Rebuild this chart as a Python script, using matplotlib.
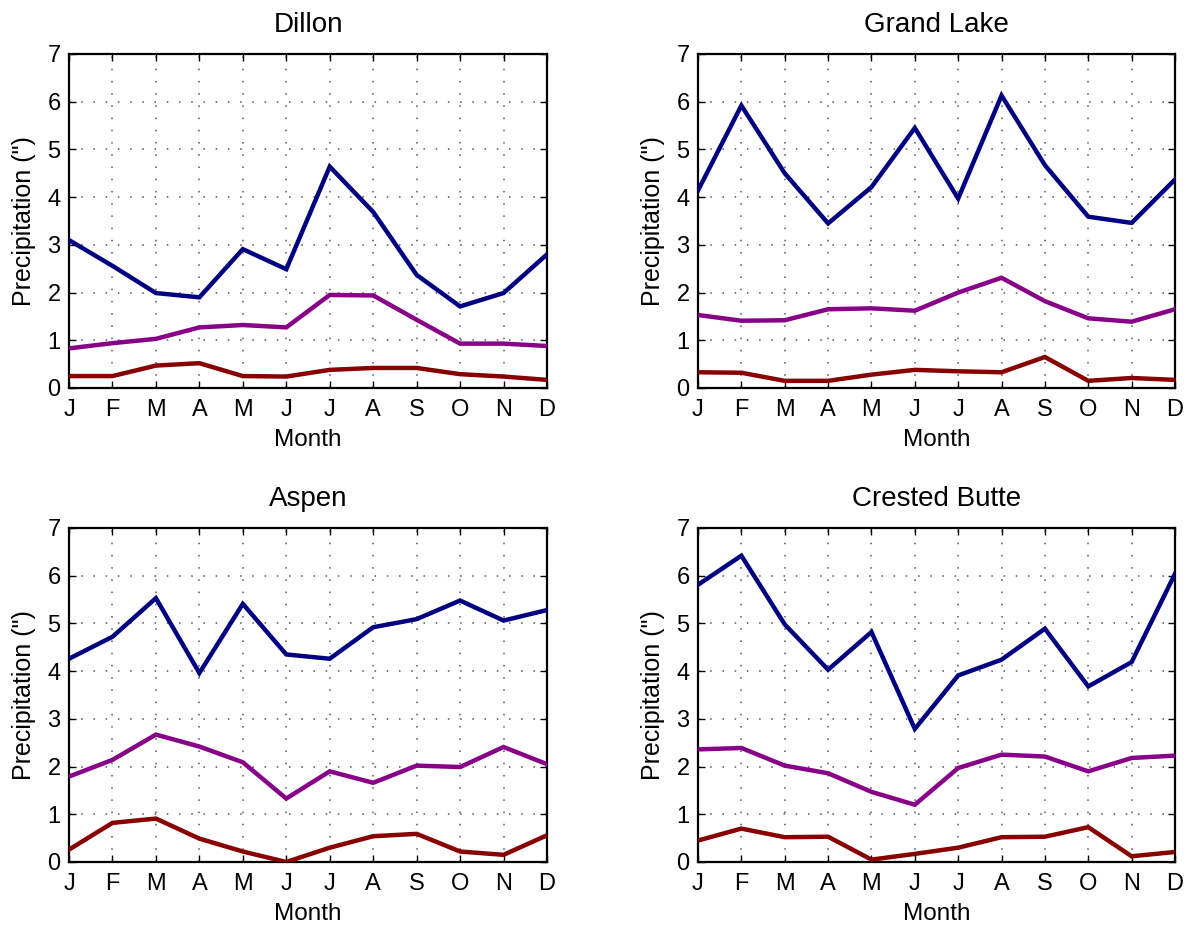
import matplotlib
matplotlib.use("Agg")
import matplotlib.pyplot as plt

plt.rcParams['font.family'] = ['Liberation Sans', 'DejaVu Sans']

months = ['J', 'F', 'M', 'A', 'M', 'J', 'J', 'A', 'S', 'O', 'N', 'D']
stations = ['Dillon', 'Grand Lake', 'Aspen', 'Crested Butte']

# Monthly precipitation (inches): high, median, low series per station
dillon_high = [3.10, 2.56, 1.99, 1.90, 2.91, 2.49, 4.64, 3.69, 2.37, 1.71, 1.99, 2.80]
dillon_mid = [0.83, 0.94, 1.03, 1.27, 1.32, 1.27, 1.95, 1.94, 1.43, 0.93, 0.93, 0.88]
dillon_low = [0.25, 0.25, 0.47, 0.52, 0.25, 0.24, 0.38, 0.42, 0.42, 0.29, 0.24, 0.17]

grand_high = [4.14, 5.92, 4.50, 3.45, 4.21, 5.45, 3.97, 6.13, 4.67, 3.59, 3.46, 4.37]
grand_mid = [1.53, 1.41, 1.42, 1.65, 1.67, 1.62, 2.00, 2.31, 1.82, 1.46, 1.39, 1.65]
grand_low = [0.33, 0.32, 0.15, 0.15, 0.28, 0.38, 0.35, 0.33, 0.65, 0.15, 0.21, 0.17]

aspen_high = [4.26, 4.72, 5.53, 3.96, 5.41, 4.35, 4.26, 4.92, 5.09, 5.48, 5.06, 5.28]
aspen_mid = [1.79, 2.14, 2.67, 2.42, 2.09, 1.33, 1.90, 1.66, 2.02, 1.99, 2.41, 2.05]
aspen_low = [0.26, 0.82, 0.91, 0.49, 0.22, 0.00, 0.30, 0.54, 0.59, 0.22, 0.15, 0.56]

crested_high = [5.81, 6.42, 4.98, 4.03, 4.82, 2.79, 3.91, 4.24, 4.89, 3.68, 4.19, 6.04]
crested_mid = [2.36, 2.39, 2.02, 1.86, 1.47, 1.20, 1.97, 2.25, 2.21, 1.90, 2.18, 2.23]
crested_low = [0.45, 0.70, 0.52, 0.53, 0.05, 0.17, 0.30, 0.52, 0.53, 0.73, 0.12, 0.21]

series = [
    (dillon_high, dillon_mid, dillon_low),
    (grand_high, grand_mid, grand_low),
    (aspen_high, aspen_mid, aspen_low),
    (crested_high, crested_mid, crested_low),
]
colors = ['#000080', '#880088', '#880000']

W, H = 1187, 926
fig = plt.figure(figsize=(W / 100, H / 100), dpi=100)

# axes boxes in pixel coordinates: left, top, right, bottom
boxes = [
    (69, 54, 547, 388),
    (698, 54, 1175, 388),
    (69, 528, 547, 862),
    (698, 528, 1175, 862),
]

x = list(range(len(months)))
for (l, t, r, b), name, data in zip(boxes, stations, series):
    ax = fig.add_axes([l / W, 1 - b / H, (r - l) / W, (b - t) / H])
    for vals, c in zip(data, colors):
        ax.plot(x, vals, color=c, lw=3.2, solid_joinstyle='miter', zorder=3)
    ax.set_xlim(0, 11)
    ax.set_ylim(0, 7)
    ax.set_xticks(x)
    ax.set_xticklabels(months)
    ax.set_yticks(range(8))
    ax.grid(True, color='#555555', linestyle=(0, (1, 7)), lw=1.1)
    ax.tick_params(direction='in', top=True, right=True, length=5, width=1,
                   labelsize=17, pad=8)
    ax.tick_params(axis='y', pad=6)
    for s in ax.spines.values():
        s.set_linewidth(1.6)
    ax.set_title(name, fontsize=20, pad=16)
    ax.set_xlabel('Month', fontsize=17.5, labelpad=6)
    ax.set_ylabel('Precipitation (")', fontsize=18, labelpad=8)

fig.savefig('out.png', dpi=100)
